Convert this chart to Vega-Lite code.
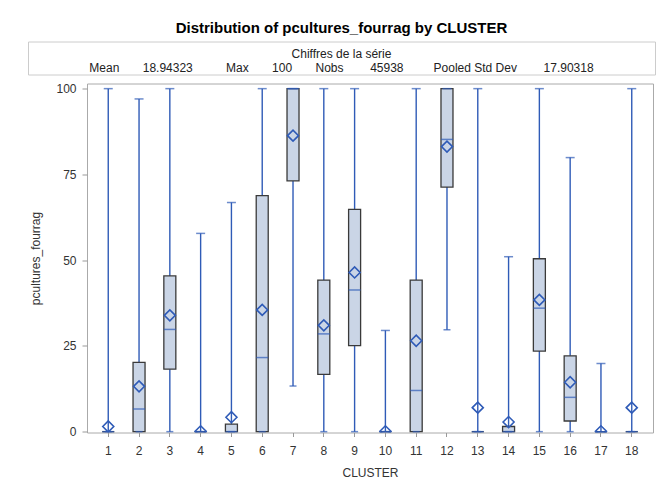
{
  "$schema": "https://vega.github.io/schema/vega-lite/v6.json",
  "background": "white",
  "padding": {"left": 27, "top": 20.5, "right": 0, "bottom": 0},
  "config": {
    "font": "Liberation Sans",
    "axis": {"labelFont": "Liberation Sans", "titleFont": "Liberation Sans", "labelFontSize": 12, "titleFontSize": 12, "titleFontWeight": "normal", "labelColor": "#333333", "titleColor": "#333333", "tickColor": "#999999", "domain": false, "grid": false}
  },
  "title": {"text": "Distribution of pcultures_fourrag by CLUSTER", "fontSize": 15, "fontWeight": "bold", "anchor": "middle", "color": "#000000", "offset": 5, "font": "Liberation Sans"},
  "bounds": "full",
  "spacing": 6,
  "vconcat": [
    {
      "width": 627,
      "height": 33,
      "view": {"stroke": "#CCCCCC", "strokeWidth": 1},
      "data": {"values": [{"heading": "Chiffres de la série"}]},
      "mark": {
        "type": "text",
        "fontSize": 12,
        "lineHeight": 14,
        "baseline": "middle",
        "dy": -4.5,
        "color": "#222222",
        "text": ["Chiffres de la série", "Mean\u00a0\u00a0\u00a0\u00a0\u00a0\u00a0\u00a018.94323\u00a0\u00a0\u00a0\u00a0\u00a0\u00a0\u00a0\u00a0\u00a0\u00a0Max\u00a0\u00a0\u00a0\u00a0\u00a0\u00a0\u00a0100\u00a0\u00a0\u00a0\u00a0\u00a0\u00a0\u00a0Nobs\u00a0\u00a0\u00a0\u00a0\u00a0\u00a0\u00a0\u00a045938\u00a0\u00a0\u00a0\u00a0\u00a0\u00a0\u00a0\u00a0\u00a0Pooled Std Dev\u00a0\u00a0\u00a0\u00a0\u00a0\u00a0\u00a0\u00a017.90318"]
      },
      "encoding": {}
    },
    {
      "spacing": 0,
      "bounds": "full",
      "hconcat": [
        {
          "width": 1,
          "height": 349,
          "view": {"stroke": null, "fill": null},
          "data": {"values": [{"blank": ""}]},
          "mark": {"type": "text", "text": ""},
          "encoding": {}
        },
        {
          "width": 566,
          "height": 349,
          "view": {"stroke": "#AAAAAA", "strokeWidth": 1},
          "data": {"values": [
            {"cluster": 1, "min": 0, "q1": 0, "median": 0, "q3": 0, "max": 100, "mean": 1.5},
            {"cluster": 2, "min": 0, "q1": 0, "median": 6.6, "q3": 20.2, "max": 97, "mean": 13.2},
            {"cluster": 3, "min": 0, "q1": 18.2, "median": 29.8, "q3": 45.4, "max": 100, "mean": 33.9},
            {"cluster": 4, "min": 0, "q1": 0, "median": 0, "q3": 0, "max": 57.8, "mean": 0.1},
            {"cluster": 5, "min": 0, "q1": 0, "median": 0, "q3": 2.2, "max": 66.8, "mean": 4.2},
            {"cluster": 6, "min": 0, "q1": 0, "median": 21.6, "q3": 68.8, "max": 100, "mean": 35.5},
            {"cluster": 7, "min": 13.3, "q1": 73.1, "median": 100, "q3": 100, "max": 100, "mean": 86.3},
            {"cluster": 8, "min": 0, "q1": 16.7, "median": 28.5, "q3": 44.2, "max": 100, "mean": 31.0},
            {"cluster": 9, "min": 0, "q1": 25.1, "median": 41.3, "q3": 64.8, "max": 100, "mean": 46.4},
            {"cluster": 10, "min": 0, "q1": 0, "median": 0, "q3": 0, "max": 29.5, "mean": 0.1},
            {"cluster": 11, "min": 0, "q1": 0, "median": 12.0, "q3": 44.2, "max": 100, "mean": 26.5},
            {"cluster": 12, "min": 29.7, "q1": 71.3, "median": 85.2, "q3": 100, "max": 100, "mean": 83.1},
            {"cluster": 13, "min": 0, "q1": 0, "median": 0, "q3": 0, "max": 100, "mean": 7.0},
            {"cluster": 14, "min": 0, "q1": 0, "median": 0, "q3": 1.5, "max": 51.0, "mean": 2.8},
            {"cluster": 15, "min": 0, "q1": 23.5, "median": 36.0, "q3": 50.4, "max": 100, "mean": 38.4},
            {"cluster": 16, "min": 0, "q1": 3.1, "median": 10.0, "q3": 22.1, "max": 79.9, "mean": 14.4},
            {"cluster": 17, "min": 0, "q1": 0, "median": 0, "q3": 0, "max": 19.9, "mean": 0.1},
            {"cluster": 18, "min": 0, "q1": 0, "median": 0, "q3": 0, "max": 100, "mean": 7.0}
          ]},
          "encoding": {
            "x": {
              "field": "cluster", "type": "ordinal",
              "scale": {"type": "band", "paddingInner": 0, "paddingOuter": 0.19},
              "axis": {"title": "CLUSTER", "labelAngle": 0, "tickSize": 4, "labelPadding": 9, "titlePadding": 11}
            }
          },
          "layer": [
            {
              "mark": {"type": "rule", "color": "#2F5BB7", "strokeWidth": 1.4},
              "encoding": {
                "y": {"field": "min", "type": "quantitative", "scale": {"domain": [-0.25, 101.5], "nice": false, "zero": false},
                  "axis": {"title": "pcultures_fourrag", "values": [0, 25, 50, 75, 100], "tickSize": 5, "labelPadding": 6, "titlePadding": 13}},
                "y2": {"field": "max"}
              }
            },
            {
              "mark": {"type": "bar", "size": 12, "fill": "#CAD5E6", "stroke": "#3A3A3A", "strokeWidth": 1.3},
              "encoding": {
                "y": {"field": "q1", "type": "quantitative"},
                "y2": {"field": "q3"}
              }
            },
            {
              "mark": {"type": "tick", "size": 9, "thickness": 1.5, "color": "#2F5BB7"},
              "encoding": {"y": {"field": "max", "type": "quantitative"}}
            },
            {
              "mark": {"type": "tick", "size": 7, "thickness": 1.5, "color": "#2F5BB7"},
              "encoding": {"y": {"field": "min", "type": "quantitative"}}
            },
            {
              "mark": {"type": "tick", "size": 12, "thickness": 1.5, "color": "#2F5BB7"},
              "encoding": {"y": {"field": "median", "type": "quantitative"}}
            },
            {
              "mark": {"type": "point", "shape": "diamond", "size": 121, "filled": false, "stroke": "#2F5BB7", "strokeWidth": 1.6, "opacity": 1, "clip": true},
              "encoding": {"y": {"field": "mean", "type": "quantitative"}}
            }
          ]
        }
      ]
    }
  ]
}
